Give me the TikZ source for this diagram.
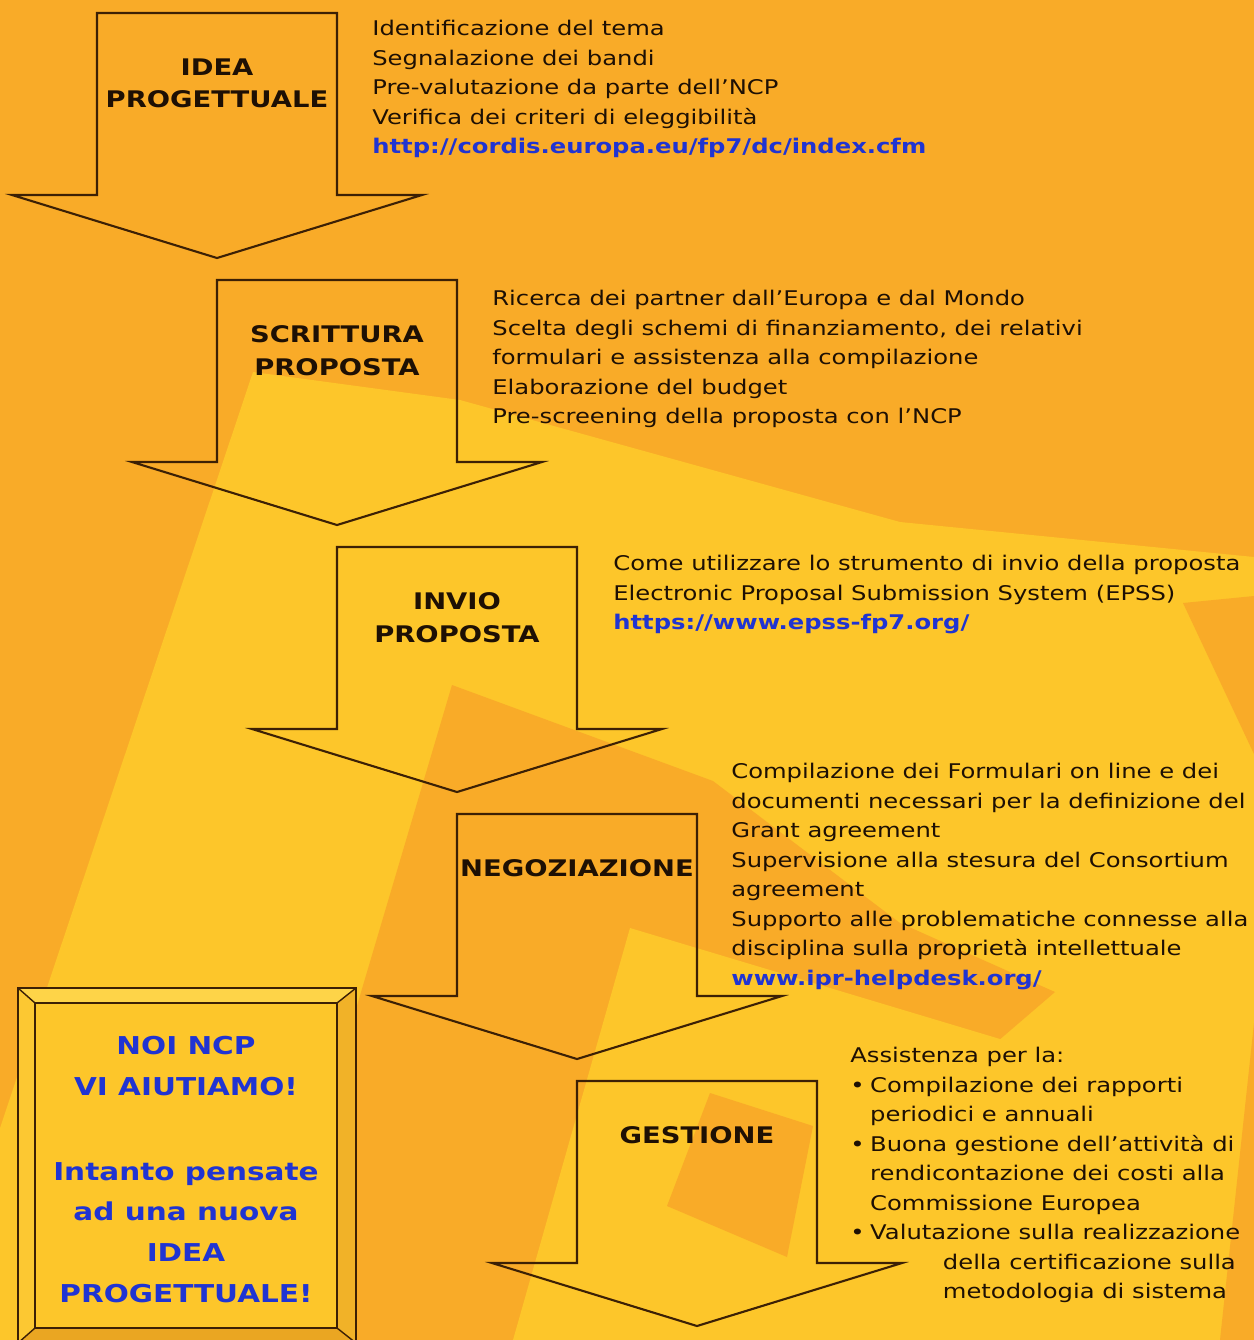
\documentclass[tikz,border=0pt]{standalone}
\usepackage{fontspec}
\setmainfont{DejaVu Sans}[FakeStretch=1.2]
\usetikzlibrary{calc}

\definecolor{arancio}{RGB}{249,171,40}
\definecolor{giallo}{RGB}{253,198,42}
\definecolor{linea}{RGB}{60,32,5}
\definecolor{scuro}{RGB}{30,16,4}
\definecolor{blu}{RGB}{32,52,210}
\definecolor{cornicesu}{RGB}{254,212,72}
\definecolor{cornicesx}{RGB}{252,200,50}
\definecolor{cornicedx}{RGB}{241,178,40}
\definecolor{cornicegiu}{RGB}{234,166,34}

\newcommand{\lnk}[1]{\textcolor{blu}{\bfseries #1}}
\newcommand{\pto}{\makebox[11.3pt][l]{•}}

\begin{document}
\begin{tikzpicture}[x=0.02cm, y=-0.02cm,
    freccia/.style={draw=linea, line width=1.2pt, line join=miter},
    titolo/.style={font=\bfseries\fontsize{13}{18.7}\selectfont, text=scuro, align=center, anchor=north, inner sep=0pt},
    elenco/.style={font=\fontsize{11.5}{16.8}\selectfont, text=scuro, align=left, anchor=north west, inner sep=0pt},
    riquadro/.style={font=\bfseries\fontsize{14}{23.2}\selectfont, text=blu, align=center, anchor=north, inner sep=0pt}]
        % Misure delle frecce (in pixel)
        \def\shaftW{120} % meta' larghezza del fusto
        \def\shaftH{182} % altezza del fusto
        \def\headW{205} % meta' larghezza della punta
        \def\headH{63} % altezza della punta

        % Sfondo
        \useasboundingbox (0,0) rectangle (1254,1340);
        \fill[arancio] (0,0) rectangle (1254,1340);
        \fill[giallo] (253,372) -- (460,400) -- (900,522) -- (1254,557) -- (1254,1340) -- (0,1340) -- (0,1128) -- cycle;
        \fill[arancio] (1183,603) -- (1254,596) -- (1254,754) -- cycle;
        \fill[arancio] (1254,1023) -- (1254,1340) -- (1220,1340) -- cycle;
        \fill[arancio] (452,685) -- (713,781) -- (900,923) -- (1055,992) -- (650,1340) -- (258,1340) -- cycle;
        \fill[giallo] (630,928) -- (1150,1084) -- (1150,1340) -- (513,1340) -- cycle;
        \fill[arancio] (710,1093) -- (813,1126) -- (787,1257) -- (667,1206) -- cycle;

        % Frecce con i titoli
        \foreach \i/\name/\testo in {0/idea/{IDEA\\PROGETTUALE}, 1/scrittura/{SCRITTURA\\PROPOSTA},
                2/invio/{INVIO\\PROPOSTA}, 3/negoziazione/{NEGOZIAZIONE}, 4/gestione/{GESTIONE}} {
            \coordinate (\name) at (217+120*\i, 13+267*\i);
            \draw[freccia] (\name) ++(-\shaftW,0) -- ++(2*\shaftW,0) -- ++(0,\shaftH)
                -- ++(\headW-\shaftW,0) -- ++(-\headW,\headH) -- ++(-\headW,-\headH)
                -- ++(\headW-\shaftW,0) -- cycle;
            \node[titolo] (\name-t) at ($(\name)+(0,45)$) {\testo};
        }

        % Testi a destra delle frecce
        \node[elenco] (tema) at (372,20) {Identificazione del tema\\Segnalazione dei bandi\\
            Pre-valutazione da parte dell'NCP\\Verifica dei criteri di eleggibilità\\
            \lnk{http://cordis.europa.eu/fp7/dc/index.cfm}};
        \node[elenco] (partner) at (492,290) {Ricerca dei partner dall'Europa e dal Mondo\\
            Scelta degli schemi di finanziamento, dei relativi\\formulari e assistenza alla compilazione\\
            Elaborazione del budget\\Pre-screening della proposta con l'NCP};
        \node[elenco] (epss) at (613,555) {Come utilizzare lo strumento di invio della proposta\\
            Electronic Proposal Submission System (EPSS)\\\lnk{https://www.epss-fp7.org/}};
        \node[elenco] (formulari) at (731,763) {Compilazione dei Formulari on line e dei\\
            documenti necessari per la definizione del\\Grant agreement\\
            Supervisione alla stesura del Consortium\\agreement\\
            Supporto alle problematiche connesse alla\\disciplina sulla proprietà intellettuale\\
            \lnk{www.ipr-helpdesk.org/}};
        \node[elenco] (assistenza) at (850,1047) {Assistenza per la:\\
            \pto Compilazione dei rapporti\\\hspace*{11.3pt}periodici e annuali\\
            \pto Buona gestione dell'attività di\\\hspace*{11.3pt}rendicontazione dei costi alla\\
            \hspace*{11.3pt}Commissione Europea\\
            \pto Valutazione sulla realizzazione\\\hspace*{52.7pt}della certificazione sulla\\
            \hspace*{52.7pt}metodologia di sistema};

        % Riquadro in basso a sinistra
        \coordinate (o1) at (18,988);
        \coordinate (o2) at (356,988);
        \coordinate (o3) at (356,1343);
        \coordinate (o4) at (18,1343);
        \coordinate (i1) at (35,1003);
        \coordinate (i2) at (337,1003);
        \coordinate (i3) at (337,1328);
        \coordinate (i4) at (35,1328);
        \fill[cornicesu] (o1) -- (o2) -- (i2) -- (i1) -- cycle;
        \fill[cornicedx] (o2) -- (o3) -- (i3) -- (i2) -- cycle;
        \fill[cornicegiu] (o3) -- (o4) -- (i4) -- (i3) -- cycle;
        \fill[cornicesx] (o4) -- (o1) -- (i1) -- (i4) -- cycle;
        \fill[giallo] (i1) rectangle (i3);
        \draw[freccia] (o1) rectangle (o3);
        \draw[freccia] (i1) rectangle (i3);
        \foreach \a/\b in {o1/i1, o2/i2, o3/i3, o4/i4} {
            \draw[linea, line width=0.8pt] (\a) -- (\b);
        }
        \node[riquadro] (noi) at (186,1036) {NOI NCP\\VI AIUTIAMO!\\[25pt]Intanto pensate\\
            ad una nuova\\IDEA\\PROGETTUALE!};

    \end{tikzpicture}
\end{document}
